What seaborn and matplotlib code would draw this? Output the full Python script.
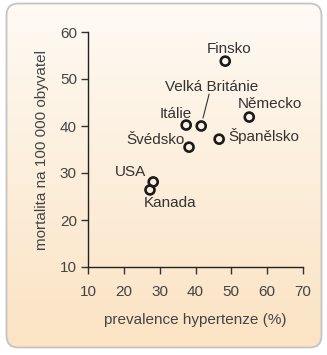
import numpy as np
import matplotlib
matplotlib.use("Agg")
import matplotlib.pyplot as plt
import seaborn as sns
import pandas as pd
from matplotlib.patches import FancyBboxPatch
from matplotlib.colors import LinearSegmentedColormap

countries = ["Finsko", "Německo", "Velká Británie", "Itálie", "Švédsko", "Španělsko", "USA", "Kanada"]
prevalence = [48.3, 55.0, 41.6, 37.4, 38.2, 46.6, 28.2, 27.3]
mortality = [53.8, 41.9, 40.0, 40.2, 35.5, 37.2, 28.1, 26.4]
x_ticks = [10, 20, 30, 40, 50, 60, 70]
y_ticks = [10, 20, 30, 40, 50, 60]

df = pd.DataFrame({"country": countries, "prevalence": prevalence, "mortality": mortality})

sns.set_style("ticks")
plt.rcParams["font.family"] = ["Liberation Sans", "DejaVu Sans"]

W, H = 327, 355
fig = plt.figure(figsize=(W / 100, H / 100), dpi=100)
fig.patch.set_facecolor("white")

# background rounded box with gradient
bg = fig.add_axes([0, 0, 1, 1], zorder=0)
bg.set_xlim(0, W)
bg.set_ylim(H, 0)
bg.axis("off")
cmap = LinearSegmentedColormap.from_list("bgc", ["#fefaf4", "#fbe3c3"])
grad = np.linspace(0, 1, 256).reshape(-1, 1)
im = bg.imshow(grad, extent=[6, 322, 348, 3], cmap=cmap, aspect="auto", zorder=0)
box = FancyBboxPatch((6.5, 3.5), 315, 344, boxstyle="round,pad=0,rounding_size=12",
                     facecolor="none", edgecolor="#c4c4c4", linewidth=1.3, zorder=2)
bg.add_patch(box)
im.set_clip_path(box)

# main axes: x 88..303 px, y 32..267 px
ax = fig.add_axes([88 / W, 1 - 267 / H, (303 - 88) / W, (267 - 32) / H], zorder=1)
ax.patch.set_alpha(0)
sns.scatterplot(data=df, x="prevalence", y="mortality", ax=ax, s=42,
                facecolor="none", edgecolor="#1a1a1a", linewidth=1.9, zorder=3)
ax.set_xlim(10, 70)
ax.set_ylim(10, 60)
ax.set_xticks(x_ticks)
ax.set_yticks(y_ticks)
ax.tick_params(axis="both", direction="out", length=5, width=1, color="#333333",
               labelsize=11, labelcolor="#444444", pad=3)
ax.tick_params(axis="x", pad=8)
for s in ["top", "right"]:
    ax.spines[s].set_visible(False)
for s in ["left", "bottom"]:
    ax.spines[s].set_color("#222222")
    ax.spines[s].set_linewidth(1)
ax.set_xlabel("prevalence hypertenze (%)", fontsize=11, color="#444444", labelpad=10)
ax.set_ylabel("mortalita na 100 000 obyvatel", fontsize=11, color="#444444", labelpad=8)

tc = "#333333"
fs = 11
ax.text(49.4, 56.4, "Finsko", ha="center", va="center", fontsize=fs, color=tc)
ax.text(60.8, 44.7, "Německo", ha="center", va="center", fontsize=fs, color=tc)
ax.text(44.6, 47.4, "Velká Británie", ha="center", va="baseline", fontsize=fs, color=tc)
ax.plot([43.8, 42.1], [46.8, 41.7], color="#333333", lw=0.8)
ax.text(34.4, 42.55, "Itálie", ha="center", va="center", fontsize=fs, color=tc)
ax.text(37.1, 37.0, "Švédsko", ha="right", va="center", fontsize=fs, color=tc)
ax.text(49.1, 37.9, "Španělsko", ha="left", va="center", fontsize=fs, color=tc)
ax.text(22.0, 30.2, "USA", ha="center", va="center", fontsize=fs, color=tc)
ax.text(33.0, 23.6, "Kanada", ha="center", va="center", fontsize=fs, color=tc)

fig.savefig("out.png", dpi=100)
